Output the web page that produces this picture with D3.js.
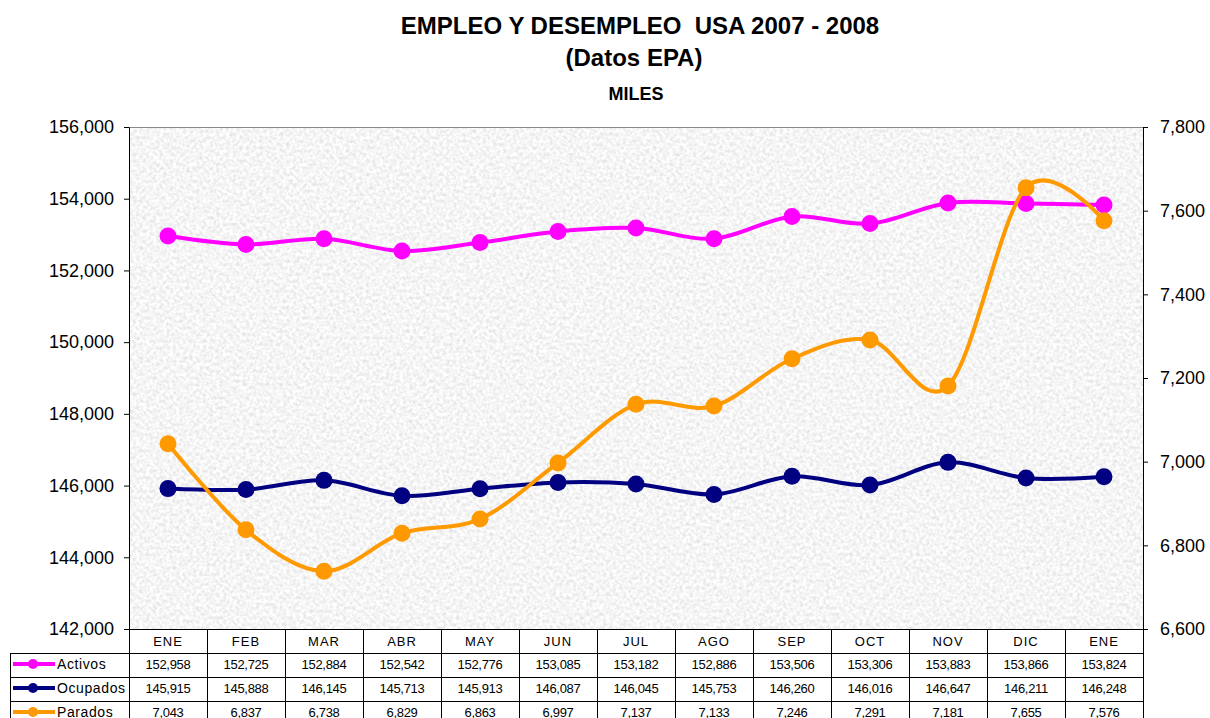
<!DOCTYPE html>
<html>
<head>
<meta charset="utf-8">
<script src="https://cdn.jsdelivr.net/npm/d3@7/dist/d3.min.js"></script>
<style>
  body { margin: 0; background: #fff; }
  svg { display: block; font-family: "Liberation Sans", Arial, sans-serif; }
</style>
</head>
<body>
<div class="chart"></div>
<script>
// datos (miles)
var meses = ["ENE","FEB","MAR","ABR","MAY","JUN","JUL","AGO","SEP","OCT","NOV","DIC","ENE"];
var activos  = [152958,152725,152884,152542,152776,153085,153182,152886,153506,153306,153883,153866,153824];
var ocupados = [145915,145888,146145,145713,145913,146087,146045,145753,146260,146016,146647,146211,146248];
var parados  = [7043,6837,6738,6829,6863,6997,7137,7133,7246,7291,7181,7655,7576];
var ticksIzq = [142000,144000,146000,148000,150000,152000,154000,156000];
var ticksDer = [6600,6800,7000,7200,7400,7600,7800];

drawChart();

function drawChart(){
    var w = 1210, h = 718;
    var left = 129, right = 1143, top = 127, bottom = 629;
    var rowH = 24;

    var svg = d3.select(".chart").append("svg")
        .attr("width", w).attr("height", h);

    // textura de fondo (granito claro)
    var defs = svg.append("defs");
    var f = defs.append("filter").attr("id", "grano")
        .attr("x", 0).attr("y", 0).attr("width", "100%").attr("height", "100%");
    f.append("feTurbulence").attr("type", "fractalNoise")
        .attr("baseFrequency", 0.3).attr("numOctaves", 3).attr("seed", 7);
    f.append("feColorMatrix").attr("type", "matrix")
        .attr("values", "0.45 0 0 0 0.69  0.45 0 0 0 0.69  0.45 0 0 0 0.69  0 0 0 0 1");

    var x = d3.scaleBand().domain(d3.range(meses.length)).range([left, right]);
    var yIzq = d3.scaleLinear().domain([142000, 156000]).range([bottom, top]);
    var yDer = d3.scaleLinear().domain([6600, 7800]).range([bottom, top]);
    var cx = function(i){ return x(i) + x.bandwidth() / 2; };

    svg.append("rect").attr("x", left).attr("y", top)
        .attr("width", right - left).attr("height", bottom - top)
        .attr("fill", "#ebebeb").attr("filter", "url(#grano)");
    svg.append("line").attr("x1", left).attr("x2", right)
        .attr("y1", top + 0.5).attr("y2", top + 0.5)
        .attr("stroke", "#888").attr("stroke-width", 1);

    // titulos
    svg.append("text").attr("x", 640).attr("y", 34).attr("text-anchor", "middle")
        .attr("font-weight", "bold").attr("font-size", 24)
        .style("white-space", "pre")
        .text("EMPLEO Y DESEMPLEO  USA 2007 - 2008");
    svg.append("text").attr("x", 634).attr("y", 66).attr("text-anchor", "middle")
        .attr("font-weight", "bold").attr("font-size", 24)
        .text("(Datos EPA)");
    svg.append("text").attr("x", 636).attr("y", 100).attr("text-anchor", "middle")
        .attr("font-weight", "bold").attr("font-size", 18)
        .text("MILES");

    // ejes
    var ax1 = svg.append("g").attr("transform", "translate(" + left + ",0)")
        .call(d3.axisLeft(yIzq).tickValues(ticksIzq).tickSize(5).tickSizeOuter(0)
            .tickPadding(10).tickFormat(d3.format(",")));
    var ax2 = svg.append("g").attr("transform", "translate(" + right + ",0)")
        .call(d3.axisRight(yDer).tickValues(ticksDer).tickSize(5).tickSizeOuter(0)
            .tickPadding(12).tickFormat(d3.format(",")));
    [ax1, ax2].forEach(function(a){
        a.selectAll("text").attr("font-size", 18).attr("fill", "#000")
            .style("font-family", "'Liberation Sans', Arial, sans-serif");
        a.selectAll("line,path").attr("stroke", "#000");
    });

    // series
    var series = [
        { nombre: "Activos",  datos: activos,  color: "#ff00ff", y: yIzq },
        { nombre: "Ocupados", datos: ocupados, color: "#000080", y: yIzq },
        { nombre: "Parados",  datos: parados,  color: "#ff9900", y: yDer }
    ];

    series.forEach(function(s){
        var linea = d3.line()
            .x(function(d, i){ return cx(i); })
            .y(function(d){ return s.y(d); })
            .curve(d3.curveCardinal.tension(0));
        svg.append("path").datum(s.datos)
            .attr("d", linea).attr("fill", "none")
            .attr("stroke", s.color).attr("stroke-width", 4);
        svg.selectAll(null).data(s.datos).enter().append("circle")
            .attr("cx", function(d, i){ return cx(i); })
            .attr("cy", function(d){ return s.y(d); })
            .attr("r", 8.5).attr("fill", s.color);
    });

    // tabla de datos
    var tabla = svg.append("g").attr("stroke", "#000").attr("stroke-width", 1);
    var filaY = function(k){ return bottom + rowH * k; };
    tabla.append("line").attr("x1", left).attr("x2", right)
        .attr("y1", bottom + 0.5).attr("y2", bottom + 0.5);
    for (var k = 1; k <= 3; k++) {
        tabla.append("line").attr("x1", 10).attr("x2", right)
            .attr("y1", filaY(k) + 0.5).attr("y2", filaY(k) + 0.5);
    }
    tabla.append("line").attr("x1", 10.5).attr("x2", 10.5)
        .attr("y1", filaY(1)).attr("y2", h);
    d3.range(meses.length + 1).forEach(function(i){
        var xx = Math.round(left + x.step() * i) + 0.5;
        tabla.append("line").attr("x1", xx).attr("x2", xx)
            .attr("y1", bottom).attr("y2", h);
    });

    svg.selectAll(null).data(meses).enter().append("text")
        .attr("x", function(d, i){ return cx(i); })
        .attr("y", bottom + 17)
        .attr("text-anchor", "middle").attr("font-size", 13)
        .attr("letter-spacing", 1)
        .text(function(d){ return d; });

    series.forEach(function(s, k){
        var yy = filaY(k + 1) + rowH / 2 - 1;
        svg.append("line").attr("x1", 13).attr("x2", 55)
            .attr("y1", yy).attr("y2", yy)
            .attr("stroke", s.color).attr("stroke-width", 4);
        svg.append("circle").attr("cx", 33).attr("cy", yy).attr("r", 5)
            .attr("fill", s.color);
        svg.append("text").attr("x", 57).attr("y", yy + 5)
            .attr("font-size", 14).attr("letter-spacing", 0.6)
            .text(s.nombre);
        svg.selectAll(null).data(s.datos).enter().append("text")
            .attr("x", function(d, i){ return cx(i); })
            .attr("y", yy + 5)
            .attr("text-anchor", "middle").attr("font-size", 13)
            .attr("letter-spacing", -0.3)
            .text(function(d){ return d3.format(",")(d); });
    });
}
</script>
</body>
</html>
